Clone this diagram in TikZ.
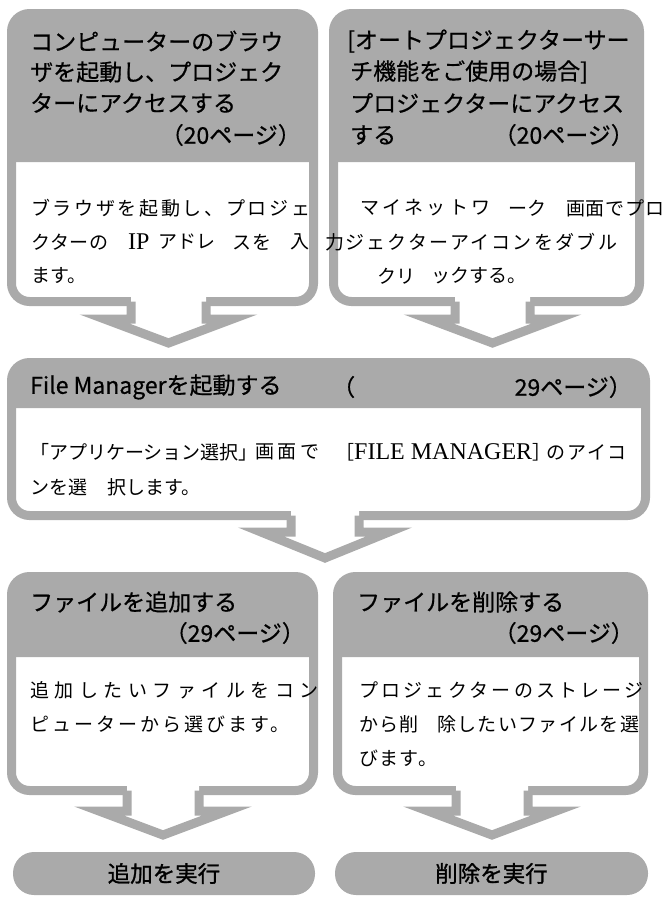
\documentclass[tikz,border=0pt]{standalone}
\usepackage{fontspec}
\usetikzlibrary{calc}
\newfontfamily\hfont{Noto Sans CJK JP}[FakeBold=0.6]
\newfontfamily\pfont{Noto Sans CJK JP}[FakeBold=1.2]
\newfontfamily\bfont{Noto Sans CJK JP}
\newfontfamily\lser{Liberation Serif}
\definecolor{gbox}{RGB}{170,170,170}
\newcommand\LS[2]{{\addfontfeature{LetterSpace=#1}#2}}
\newcommand\IPs[1]{{\lser\fontsize{24}{28}\selectfont #1}}
\tikzset{
  box/.style={draw=gbox, line width=9pt, fill=white, rounded corners=18pt,
    inner sep=0pt, outer sep=0pt, anchor=north west},
  arr/.style={draw=gbox, line width=9pt, line join=miter},
  pill/.style={fill=gbox, rounded corners=21pt, inner sep=0pt, outer sep=0pt,
    minimum height=43pt, font=\pfont\fontsize{22.5}{27}\selectfont},
  htext/.style={inner sep=0pt, anchor=west, font=\hfont\fontsize{23}{27}\selectfont},
  btext/.style={inner sep=0pt, anchor=west, font=\bfont\fontsize{19}{23}\selectfont}
}
% #1 name, #2 x1, #3 y1, #4 x2, #5 y2, #6 header bottom
\newcommand\flowbox[6]{%
  \node[box, minimum width={#4-#2}, minimum height={#5-#3}] (#1) at (#2,#3) {};
  \fill[gbox] (#2,#6) [rounded corners=18pt] -- (#2,#3) -- (#4,#3) [sharp corners] -- (#4,#6) -- cycle;
}
% #1 box, #2 dx, #3 half stem, #4 flange dy, #5 flange half width, #6 tip dy
\newcommand\flowarrow[6]{%
  \path (#1.south) ++(#2,0) coordinate (#1-ac);
  \coordinate (#1-tip) at ($(#1-ac)+(0,#6)$);
  \fill[white] ($(#1-ac)+(-#3,-6)$) -- ($(#1-ac)+(-#3,#4)$) -- ($(#1-ac)+(-#5,#4)$) -- (#1-tip)
     -- ($(#1-ac)+(#5,#4)$) -- ($(#1-ac)+(#3,#4)$) -- ($(#1-ac)+(#3,-6)$) -- cycle;
  \draw[arr] ($(#1-ac)+(-#3,0)$) -- ($(#1-ac)+(-#3,#4)$) -- ($(#1-ac)+(-#5,#4)$) -- (#1-tip)
     -- ($(#1-ac)+(#5,#4)$) -- ($(#1-ac)+(#3,#4)$) -- ($(#1-ac)+(#3,0)$);
}
\begin{document}
\begin{tikzpicture}[x=1pt,y=-1pt]
\useasboundingbox (0,0) rectangle (670,898);
% boxes
\flowbox{b1}{11.5}{13.5}{313.5}{301.5}{162}
\flowbox{b2}{333.5}{13.5}{639.5}{301.5}{162}
\flowbox{b3}{11.5}{362.5}{645.5}{515.5}{408}
\flowbox{b4}{11.5}{576.5}{313.5}{790.5}{657}
\flowbox{b5}{337.5}{576.5}{643.5}{790.5}{657}
% arrows
\flowarrow{b1}{6}{37.5}{17.5}{64}{41.5}
\flowarrow{b2}{6}{37.5}{17.5}{64}{41.5}
\flowarrow{b3}{-3.5}{34}{16.5}{64}{42.5}
\flowarrow{b4}{0.5}{36}{20.5}{64}{44.5}
\flowarrow{b5}{1.5}{36}{20.5}{64}{44.5}
% pills
\node[pill, minimum width=302pt] (p1) at (164,873.5) {追加を実行};
\node[pill, minimum width=313pt] (p2) at (491.5,873.5) {削除を実行};
% headers box 1
\node[htext] (h11) at (30,41) {コンピューターのブラウ};
\node[htext] (h12) at (30,72) {ザを起動し、プロジェク};
\node[htext] (h13) at (30,103) {ターにアクセスする};
\node[htext, anchor=east] (h14) at (301,135) {（20ページ）};
% headers box 2
\node[htext] (h21) at (347,41) {[オートプロジェクターサー};
\node[htext] (h22) at (350,72) {チ機能をご使用の場合]};
\node[htext] (h23) at (350,103) {プロジェクターにアクセス};
\node[htext] (h24) at (350,135) {する};
\node[htext, anchor=east] (h25) at (634,135) {（20ページ）};
% header box 3
\node[htext] (h31) at (30,387) {File Managerを起動する};
\node[htext] (h32) at (332,387) {（};
\node[htext, anchor=east] (h33) at (632,387) {29ページ）};
% headers box 4, 5
\node[htext] (h41) at (30,602) {ファイルを追加する};
\node[htext, anchor=east] (h42) at (305,633) {（29ページ）};
\node[htext] (h51) at (357,602) {ファイルを削除する};
\node[htext, anchor=east] (h52) at (634,633) {（29ページ）};
% body box 1
\node[btext] (t11) at (31,208) {\LS{14}{ブラウザを起動し、プロジェ}};
\node[btext] (t12) at (31,242) {\LS{3}{クターの}};
\node[btext] (t13) at (128,242) {\IPs{IP}};
\node[btext] (t14) at (158,242) {アドレ};
\node[btext] (t15) at (232,242) {\LS{5}{スを}};
\node[btext] (t16) at (290,242) {入};
\node[btext] (t17) at (325,242) {力};
\node[btext] (t18) at (31,276) {ます。};
% body box 2
\node[btext] (t21) at (360,208) {\LS{17}{マイネットワ}};
\node[btext] (t22) at (508,208) {ーク};
\node[btext] (t23) at (566,208) {\LS{4}{画面でプロ}};
\node[btext] (t24) at (345,242) {\LS{12}{ジェクターアイコンをダブル}};
\node[btext] (t25) at (377,276) {クリ};
\node[btext] (t26) at (431,276) {ックする。};
% body box 3
\node[btext] (t31) at (30,452) {「アプリケーション選択」};
\node[btext] (t32) at (255,452) {\LS{20}{画面で}};
\node[btext] (t33) at (335,452) {［\IPs{FILE MANAGER}］};
\node[btext] (t34) at (546,452) {\LS{10}{のアイコ}};
\node[btext] (t35) at (30,487) {ンを選};
\node[btext] (t36) at (107,487) {択します。};
% body box 4
\node[btext] (t41) at (30,690) {\LS{29}{追加したいファイルをコン}};
\node[btext] (t42) at (30,724) {\LS{16}{ピューターから選びます。}};
% body box 5
\node[btext] (t51) at (359,690) {\LS{17}{プロジェクターのストレージ}};
\node[btext] (t52) at (359,724) {\LS{7}{から削}};
\node[btext] (t53) at (437,724) {\LS{7}{除したいファイルを選}};
\node[btext] (t54) at (359,758) {\LS{7}{びます。}};
\end{tikzpicture}
\end{document}
